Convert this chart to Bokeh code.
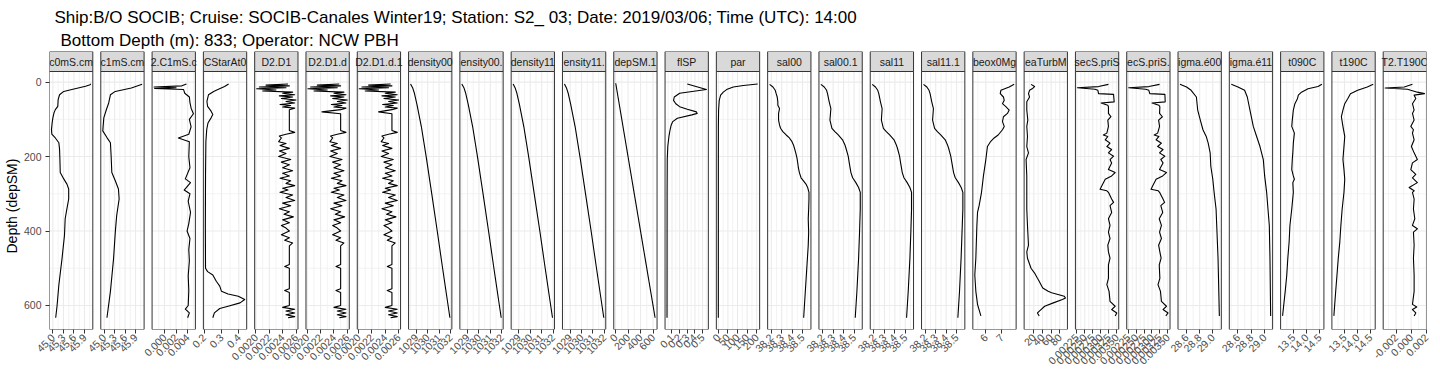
import math
from bokeh.plotting import figure
from bokeh.models import Range1d, FixedTicker, Title, CustomJSTickFormatter
from bokeh.core.properties import value
from bokeh.embed import file_html
from bokeh.resources import INLINE

FONT = "Liberation Sans"

title_line1 = "Ship:B/O SOCIB;  Cruise: SOCIB-Canales Winter19;  Station: S2_ 03;  Date: 2019/03/06;  Time (UTC): 14:00"
title_line2 = "Bottom Depth (m): 833;  Operator: NCW PBH"
y_axis_label = "Depth (depSM)"
depth_ticks = [0, 200, 400, 600]

# ---------------- profiles: depth (m) and value ----------------
c0_depth = [5, 7, 11, 20, 25, 34, 47, 65, 74, 83, 96, 109, 127, 140, 150, 163, 180, 207, 243, 260, 274, 287, 314, 340, 367, 412, 474, 545, 600, 633]
c0_val = [46.08, 46.06, 45.93, 45.54, 45.31, 45.19, 45.15, 45.14, 45.07, 45.03, 45.00, 44.98, 44.96, 44.97, 45.07, 45.17, 45.19, 45.20, 45.21, 45.31, 45.40, 45.45, 45.45, 45.40, 45.35, 45.33, 45.26, 45.17, 45.12, 45.08]

c1_depth = [6, 16, 25, 34, 56, 75, 96, 131, 149, 163, 198, 243, 265, 287, 314, 358, 403, 474, 562, 633]
c1_val = [46.09, 45.78, 45.32, 45.18, 45.13, 45.06, 44.99, 44.96, 45.08, 45.18, 45.20, 45.22, 45.32, 45.41, 45.43, 45.36, 45.32, 45.27, 45.18, 45.08]

c21_depth = [5, 10, 13, 15, 17, 20, 30, 40, 55, 70, 85, 100, 120, 140, 150, 160, 200, 230, 260, 270, 290, 300, 320, 350, 380, 400, 420, 450, 480, 520, 560, 600, 610, 620, 633]
c21_val = [0.0038, 0.0030, -0.0018, 0.0020, -0.0017, 0.0033, 0.0035, 0.0043, 0.0044, 0.0046, 0.0050, 0.0043, 0.0046, 0.0042, 0.0024, 0.0043, 0.0042, 0.0044, 0.0036, 0.0045, 0.0034, 0.0044, 0.0041, 0.0045, 0.0042, 0.0039, 0.0044, 0.0042, 0.0043, 0.0041, 0.0042, 0.0041, 0.0036, 0.0043, 0.0040]

cstar_depth = [5, 12, 20, 25, 34, 52, 65, 78, 87, 96, 110, 127, 160, 250, 385, 500, 509, 518, 535, 548, 562, 569, 575, 584, 593, 602, 608, 620, 633]
cstar_val = [0.341, 0.318, 0.279, 0.255, 0.225, 0.216, 0.220, 0.240, 0.250, 0.240, 0.222, 0.215, 0.210, 0.208, 0.207, 0.208, 0.220, 0.250, 0.270, 0.290, 0.300, 0.338, 0.397, 0.434, 0.407, 0.338, 0.290, 0.259, 0.250]

d2d1_depth = [5, 8, 10, 13, 15, 18, 21, 24, 27, 30, 34, 37, 40, 44, 48, 52, 56, 60, 63, 67, 70, 74, 130, 135, 140, 145, 150, 160, 165, 170, 178, 185, 192, 200, 208, 215, 222, 230, 238, 245, 252, 258, 265, 272, 278, 285, 290, 296, 303, 310, 318, 325, 332, 340, 348, 355, 362, 370, 378, 385, 392, 400, 410, 418, 425, 432, 440, 490, 495, 500, 555, 560, 565, 600, 605, 610, 615, 620, 625, 630, 633]
d2d1_val = [0.00248, 0.00215, 0.00250, 0.00205, 0.00245, 0.00201, 0.00230, 0.00210, 0.00255, 0.00240, 0.00258, 0.00235, 0.00255, 0.00238, 0.00260, 0.00245, 0.00258, 0.00236, 0.00252, 0.00240, 0.00258, 0.00250, 0.00250, 0.00258, 0.00245, 0.00235, 0.00238, 0.00234, 0.00245, 0.00236, 0.00250, 0.00235, 0.00245, 0.00234, 0.00252, 0.00238, 0.00250, 0.00240, 0.00255, 0.00240, 0.00250, 0.00236, 0.00252, 0.00245, 0.00258, 0.00240, 0.00248, 0.00236, 0.00255, 0.00245, 0.00258, 0.00240, 0.00252, 0.00235, 0.00250, 0.00242, 0.00256, 0.00240, 0.00250, 0.00238, 0.00245, 0.00250, 0.00238, 0.00250, 0.00243, 0.00255, 0.00250, 0.00250, 0.00243, 0.00250, 0.00250, 0.00243, 0.00250, 0.00250, 0.00240, 0.00258, 0.00245, 0.00258, 0.00245, 0.00258, 0.00248]

d2d1d_depth = [5, 8, 10, 13, 15, 18, 21, 24, 27, 30, 34, 37, 40, 44, 48, 52, 56, 60, 63, 67, 70, 74, 80, 85, 130, 135, 140, 145, 150, 160, 165, 170, 178, 185, 192, 200, 208, 215, 222, 230, 238, 245, 252, 258, 265, 272, 278, 285, 290, 296, 303, 310, 318, 325, 332, 340, 348, 355, 362, 370, 378, 385, 392, 400, 410, 418, 425, 432, 440, 490, 495, 500, 555, 560, 565, 600, 605, 610, 615, 620, 625, 630, 633]
d2d1d_val = [0.00248, 0.00215, 0.00250, 0.00205, 0.00245, 0.00201, 0.00230, 0.00210, 0.00255, 0.00240, 0.00258, 0.00235, 0.00255, 0.00238, 0.00260, 0.00245, 0.00258, 0.00236, 0.00252, 0.00240, 0.00258, 0.00250, 0.00222, 0.00250, 0.00250, 0.00258, 0.00245, 0.00235, 0.00238, 0.00234, 0.00245, 0.00236, 0.00250, 0.00235, 0.00245, 0.00234, 0.00252, 0.00238, 0.00250, 0.00240, 0.00255, 0.00240, 0.00250, 0.00236, 0.00252, 0.00245, 0.00258, 0.00240, 0.00248, 0.00236, 0.00255, 0.00245, 0.00258, 0.00240, 0.00252, 0.00235, 0.00250, 0.00242, 0.00256, 0.00240, 0.00250, 0.00238, 0.00245, 0.00250, 0.00238, 0.00250, 0.00243, 0.00255, 0.00250, 0.00250, 0.00243, 0.00250, 0.00250, 0.00243, 0.00250, 0.00250, 0.00240, 0.00258, 0.00245, 0.00258, 0.00245, 0.00258, 0.00248]

d2d1d1_depth = [5, 8, 10, 13, 15, 18, 21, 24, 27, 30, 34, 37, 40, 44, 48, 52, 56, 60, 63, 67, 70, 74, 80, 85, 130, 135, 140, 145, 150, 160, 165, 170, 178, 185, 192, 200, 208, 215, 222, 230, 238, 245, 252, 258, 265, 272, 278, 285, 290, 296, 303, 310, 318, 325, 332, 340, 348, 355, 362, 370, 378, 385, 392, 400, 410, 418, 425, 432, 440, 490, 495, 500, 555, 560, 565, 600, 605, 610, 615, 620, 625, 630, 633]
d2d1d1_val = [0.00248, 0.00215, 0.00250, 0.00205, 0.00245, 0.00201, 0.00230, 0.00210, 0.00255, 0.00240, 0.00258, 0.00235, 0.00255, 0.00238, 0.00260, 0.00245, 0.00258, 0.00236, 0.00252, 0.00240, 0.00258, 0.00250, 0.00230, 0.00250, 0.00250, 0.00258, 0.00245, 0.00235, 0.00238, 0.00234, 0.00245, 0.00236, 0.00250, 0.00235, 0.00245, 0.00234, 0.00252, 0.00238, 0.00250, 0.00240, 0.00255, 0.00240, 0.00250, 0.00236, 0.00252, 0.00245, 0.00258, 0.00240, 0.00248, 0.00236, 0.00255, 0.00245, 0.00258, 0.00240, 0.00252, 0.00235, 0.00250, 0.00242, 0.00256, 0.00240, 0.00250, 0.00238, 0.00245, 0.00250, 0.00238, 0.00250, 0.00243, 0.00255, 0.00250, 0.00250, 0.00243, 0.00250, 0.00250, 0.00243, 0.00250, 0.00250, 0.00240, 0.00258, 0.00245, 0.00258, 0.00245, 0.00258, 0.00248]

dens_depth = [5, 15, 30, 60, 120, 200, 300, 400, 500, 633]
density00_val = [1028.50, 1028.68, 1028.84, 1029.06, 1029.45, 1029.87, 1030.36, 1030.84, 1031.31, 1031.95]
density00_1_val = [1028.50, 1028.68, 1028.84, 1029.06, 1029.45, 1029.87, 1030.36, 1030.84, 1031.31, 1031.95]
density11_val = [1028.50, 1028.67, 1028.83, 1029.05, 1029.44, 1029.86, 1030.35, 1030.84, 1031.31, 1031.95]
density11_1_val = [1028.50, 1028.67, 1028.83, 1029.05, 1029.44, 1029.86, 1030.35, 1030.84, 1031.31, 1031.95]

depsm_depth = [3, 633]
depsm_val = [3, 633]

flsp_depth = [5, 20, 30, 40, 49, 58, 66, 73, 80, 84, 88, 97, 106, 115, 128, 146, 173, 208, 296, 633]
flsp_val = [0.30, 0.55, 0.20, 0.13, 0.12, 0.15, 0.20, 0.30, 0.42, 0.43, 0.36, 0.17, 0.11, 0.09, 0.075, 0.06, 0.045, 0.038, 0.036, 0.035]

par_depth = [5, 9, 13, 20, 27, 35, 49, 75, 119, 200, 633]
par_val = [205, 130, 78, 43, 26, 12, 5, 1.5, 0.4, 0.2, 0.1]

sal00_depth = [6, 13, 22, 31, 40, 53, 62, 71, 84, 102, 115, 124, 133, 142, 150, 159, 168, 177, 190, 204, 217, 230, 243, 257, 266, 274, 283, 296, 314, 341, 367, 403, 438, 491, 562, 633]
sal00_val = [38.184, 38.216, 38.238, 38.247, 38.257, 38.263, 38.263, 38.279, 38.270, 38.270, 38.279, 38.289, 38.311, 38.343, 38.374, 38.397, 38.412, 38.422, 38.435, 38.447, 38.454, 38.460, 38.470, 38.486, 38.511, 38.533, 38.549, 38.562, 38.562, 38.559, 38.555, 38.559, 38.555, 38.543, 38.527, 38.511]

sal_depth = [6, 13, 22, 31, 53, 71, 102, 124, 133, 142, 155, 168, 177, 199, 217, 243, 257, 270, 283, 296, 341, 403, 473, 562, 633]
sal00_1_val = [38.184, 38.216, 38.238, 38.247, 38.263, 38.279, 38.270, 38.289, 38.317, 38.349, 38.390, 38.412, 38.422, 38.444, 38.454, 38.470, 38.486, 38.517, 38.543, 38.559, 38.559, 38.552, 38.543, 38.527, 38.511]
sal11_val = [38.183, 38.214, 38.236, 38.246, 38.262, 38.278, 38.271, 38.290, 38.318, 38.350, 38.392, 38.413, 38.424, 38.445, 38.455, 38.471, 38.487, 38.518, 38.544, 38.560, 38.560, 38.553, 38.544, 38.528, 38.512]
sal11_1_val = [38.183, 38.215, 38.236, 38.246, 38.262, 38.278, 38.270, 38.289, 38.316, 38.348, 38.391, 38.412, 38.423, 38.444, 38.455, 38.471, 38.487, 38.518, 38.544, 38.560, 38.560, 38.552, 38.543, 38.528, 38.512]

oxy_depth = [6, 13, 22, 31, 40, 49, 58, 66, 75, 84, 93, 106, 119, 128, 142, 150, 159, 173, 208, 252, 296, 332, 350, 385, 473, 518, 562, 597, 628]
oxy_val = [7.77, 7.46, 6.94, 6.90, 7.10, 7.15, 7.04, 7.25, 7.46, 7.35, 7.10, 7.04, 7.15, 7.04, 6.77, 6.52, 6.31, 6.10, 6.00, 5.85, 5.73, 5.58, 5.48, 5.44, 5.375, 5.31, 5.375, 5.48, 5.69]

turb_depth = [6, 12, 18, 22, 31, 40, 53, 75, 102, 119, 146, 173, 190, 208, 252, 296, 341, 385, 438, 456, 473, 500, 513, 527, 535, 544, 553, 562, 566, 571, 575, 580, 584, 593, 602, 611, 620, 628]
turb_val = [13.5, 21.7, 16.0, 10.1, 7.6, 10.1, 3.7, 3.7, 6.1, 3.7, 5.3, 3.7, 7.6, 2.1, 3.7, 3.7, 3.7, 5.3, 7.6, 3.7, 5.3, 13.5, 21.7, 28.3, 32.4, 36.5, 40.6, 53.0, 61.0, 78.0, 90.0, 93.0, 86.0, 65.0, 45.0, 36.5, 28.3, 32.4]

secs_depth = [6, 12, 15, 19, 22, 31, 33, 53, 56, 62, 66, 84, 93, 102, 119, 137, 142, 146, 155, 164, 173, 181, 190, 199, 208, 217, 235, 243, 252, 261, 279, 288, 292, 296, 314, 323, 332, 350, 367, 385, 403, 420, 438, 456, 473, 491, 527, 544, 562, 589, 602, 611, 620, 628]
secs_val = [0.00324, 0.00293, 0.00227, 0.00282, 0.00291, 0.00293, 0.00340, 0.00342, 0.00301, 0.00322, 0.00324, 0.00324, 0.00332, 0.00322, 0.00324, 0.00319, 0.00308, 0.00322, 0.00314, 0.00329, 0.00319, 0.00334, 0.00324, 0.00340, 0.00329, 0.00334, 0.00324, 0.00345, 0.00334, 0.00314, 0.00303, 0.00298, 0.00319, 0.00324, 0.00334, 0.00340, 0.00329, 0.00334, 0.00324, 0.00329, 0.00324, 0.00329, 0.00322, 0.00324, 0.00329, 0.00324, 0.00324, 0.00319, 0.00326, 0.00329, 0.00345, 0.00334, 0.00350, 0.00345]
secs1_val = [0.00324, 0.00290, 0.00226, 0.00280, 0.00290, 0.00293, 0.00341, 0.00342, 0.00300, 0.00322, 0.00325, 0.00324, 0.00333, 0.00321, 0.00324, 0.00318, 0.00307, 0.00322, 0.00313, 0.00330, 0.00318, 0.00335, 0.00324, 0.00341, 0.00328, 0.00335, 0.00324, 0.00346, 0.00334, 0.00313, 0.00302, 0.00297, 0.00320, 0.00324, 0.00335, 0.00340, 0.00328, 0.00334, 0.00323, 0.00330, 0.00324, 0.00330, 0.00321, 0.00325, 0.00329, 0.00323, 0.00325, 0.00319, 0.00327, 0.00330, 0.00346, 0.00335, 0.00351, 0.00344]

sig00_depth = [6, 13, 22, 40, 75, 102, 128, 146, 164, 190, 226, 261, 296, 341, 385, 473, 628]
sig00_val = [28.50, 28.60, 28.67, 28.75, 28.77, 28.81, 28.85, 28.90, 28.93, 28.96, 28.97, 29.00, 29.02, 29.05, 29.06, 29.08, 29.10]
sig11_depth = [6, 13, 22, 40, 75, 119, 146, 173, 208, 252, 296, 341, 385, 473, 628]
sig11_val = [28.50, 28.60, 28.70, 28.74, 28.78, 28.83, 28.88, 28.93, 28.98, 29.00, 29.03, 29.05, 29.07, 29.08, 29.09]

t0_depth = [6, 12, 18, 27, 35, 44, 58, 75, 102, 119, 137, 164, 190, 208, 235, 252, 261, 270, 296, 341, 385, 429, 473, 518, 562, 628]
t0_val = [14.59, 14.44, 14.06, 13.81, 13.69, 13.66, 13.56, 13.50, 13.46, 13.44, 13.54, 13.50, 13.48, 13.46, 13.44, 13.50, 13.54, 13.48, 13.50, 13.44, 13.37, 13.34, 13.29, 13.25, 13.19, 13.09]
t1_depth = [6, 13, 22, 31, 44, 58, 75, 93, 119, 146, 173, 208, 235, 261, 296, 341, 385, 429, 473, 518, 562, 628]
t1_val = [14.61, 14.38, 14.01, 13.73, 13.63, 13.51, 13.44, 13.38, 13.44, 13.51, 13.48, 13.44, 13.48, 13.51, 13.48, 13.41, 13.36, 13.32, 13.26, 13.21, 13.16, 13.09]

t2_depth = [6, 13, 16, 19, 22, 27, 31, 35, 44, 58, 75, 84, 102, 119, 128, 137, 155, 173, 190, 208, 217, 235, 248, 257, 270, 283, 292, 296, 314, 341, 367, 385, 394, 403, 438, 473, 518, 562, 597, 604, 611, 620, 628]
t2_val = [0.00018, -0.00091, -0.00344, -0.00048, -0.00004, 0.00083, 0.00178, 0.00040, 0.00062, 0.00018, 0.00040, 0.00018, 0.00040, -0.00004, 0.00031, 0.00018, 0.00040, 0.00004, 0.00040, 0.00083, 0.00018, -0.00004, 0.00062, 0.00018, 0.00083, -0.00026, 0.00040, 0.00018, 0.00040, 0.00031, 0.00049, 0.00018, 0.00083, 0.00031, 0.00040, 0.00031, 0.00040, 0.00040, 0.00018, 0.00075, 0.00018, 0.00062, 0.00040]

# ---------------- x ticks per panel ----------------
cond_ticks, cond_labels = [45.0, 45.3, 45.6, 45.9], ["45.0", "45.3", "45.6", "45.9"]
diff_ticks, diff_labels = [0.000, 0.002, 0.004], ["0.000", "0.002", "0.004"]
cstar_ticks, cstar_labels = [0.2, 0.3, 0.4], ["0.2", "0.3", "0.4"]
d2_ticks, d2_labels = [0.0020, 0.0022, 0.0024, 0.0026], ["0.0020", "0.0022", "0.0024", "0.0026"]
dens_ticks, dens_labels = [1029, 1030, 1031, 1032], ["1029", "1030", "1031", "1032"]
depsm_ticks, depsm_labels = [0, 200, 400, 600], ["0", "200", "400", "600"]
flsp_ticks, flsp_labels = [0.1, 0.2, 0.3, 0.4, 0.5], ["0.1", "0.2", "0.3", "0.4", "0.5"]
par_ticks, par_labels = [0, 50, 100, 150, 200], ["0", "50", "100", "150", "200"]
sal_ticks, sal_labels = [38.2, 38.3, 38.4, 38.5], ["38.2", "38.3", "38.4", "38.5"]
oxy_ticks, oxy_labels = [6, 7], ["6", "7"]
turb_ticks, turb_labels = [20, 40, 60, 80], ["20", "40", "60", "80"]
secs_ticks = [0.00225, 0.00250, 0.00275, 0.00300, 0.00325, 0.00350]
secs_labels = ["0.00225", "0.00250", "0.00275", "0.00300", "0.00325", "0.00350"]
sig_ticks, sig_labels = [28.6, 28.8, 29.0], ["28.6", "28.8", "29.0"]
temp_ticks, temp_labels = [13.5, 14.0, 14.5], ["13.5", "14.0", "14.5"]
t2_ticks, t2_labels = [-0.002, 0.000, 0.002], ["-0.002", "0.000", "0.002"]

panels = [
    ("c0mS.cm", c0_depth, c0_val, cond_ticks, cond_labels),
    ("c1mS.cm", c1_depth, c1_val, cond_ticks, cond_labels),
    ("2.C1mS.c", c21_depth, c21_val, diff_ticks, diff_labels),
    ("CStarAt0", cstar_depth, cstar_val, cstar_ticks, cstar_labels),
    ("D2.D1", d2d1_depth, d2d1_val, d2_ticks, d2_labels),
    ("D2.D1.d", d2d1d_depth, d2d1d_val, d2_ticks, d2_labels),
    ("D2.D1.d.1", d2d1d1_depth, d2d1d1_val, d2_ticks, d2_labels),
    ("density00", dens_depth, density00_val, dens_ticks, dens_labels),
    ("ensity00.", dens_depth, density00_1_val, dens_ticks, dens_labels),
    ("density11", dens_depth, density11_val, dens_ticks, dens_labels),
    ("ensity11.", dens_depth, density11_1_val, dens_ticks, dens_labels),
    ("depSM.1", depsm_depth, depsm_val, depsm_ticks, depsm_labels),
    ("flSP", flsp_depth, flsp_val, flsp_ticks, flsp_labels),
    ("par", par_depth, par_val, par_ticks, par_labels),
    ("sal00", sal00_depth, sal00_val, sal_ticks, sal_labels),
    ("sal00.1", sal_depth, sal00_1_val, sal_ticks, sal_labels),
    ("sal11", sal_depth, sal11_val, sal_ticks, sal_labels),
    ("sal11.1", sal_depth, sal11_1_val, sal_ticks, sal_labels),
    ("beox0Mg", oxy_depth, oxy_val, oxy_ticks, oxy_labels),
    ("eaTurbM", turb_depth, turb_val, turb_ticks, turb_labels),
    ("secS.priS", secs_depth, secs_val, secs_ticks, secs_labels),
    ("ecS.priS.", secs_depth, secs1_val, secs_ticks, secs_labels),
    ("igma.é00", sig00_depth, sig00_val, sig_ticks, sig_labels),
    ("igma.é11", sig11_depth, sig11_val, sig_ticks, sig_labels),
    ("t090C", t0_depth, t0_val, temp_ticks, temp_labels),
    ("t190C", t1_depth, t1_val, temp_ticks, temp_labels),
    ("T2.T190C", t2_depth, t2_val, t2_ticks, t2_labels),
]

# ---------------- layout ----------------
FRAME_W = 1377
FRAME_H = 278
PANEL_W = 43.3
STRIP_H = 20
GRID = "#EBEBEB"
EDGE = "#333333"

all_depth = [d for pnl in panels for d in pnl[1]]
dmin, dmax = min(all_depth), max(all_depth)
dpad = 0.05 * (dmax - dmin)
y_top = dmin - dpad
y_bot = dmax + dpad
m_per_px = (y_bot - y_top) / (FRAME_H - STRIP_H)
y_strip = y_top - STRIP_H * m_per_px

n = len(panels)
pitch = (FRAME_W - PANEL_W) / (n - 1)

p = figure(frame_width=FRAME_W, frame_height=FRAME_H,
           x_range=Range1d(0, FRAME_W), y_range=Range1d(y_bot, y_strip),
           output_backend="svg", toolbar_location=None, title=None,
           min_border_left=43, min_border_right=4, min_border_top=0, min_border_bottom=40,
           background_fill_color="white", border_fill_color="white",
           stylesheets=["text { white-space: pre; }"])
p.outline_line_color = None
p.grid.visible = False

def minors(majors, lo, hi):
    if len(majors) < 2:
        return []
    step = majors[1] - majors[0]
    cand = [majors[0] - step / 2] + [(a + b) / 2 for a, b in zip(majors[:-1], majors[1:])] + [majors[-1] + step / 2]
    return [c for c in cand if lo <= c <= hi]

dep_major = [d for d in depth_ticks if y_top <= d <= y_bot]
dep_minor = minors(depth_ticks, y_top, y_bot)

ranges = {}
tick_pos, tick_txt = [], []
specs = []
for k, (lab, dep, val, ticks, tlabels) in enumerate(panels):
    vmin, vmax = min(val), max(val)
    pad = 0.05 * (vmax - vmin)
    lo, hi = vmin - pad, vmax + pad
    upp = (hi - lo) / PANEL_W
    left_px = k * pitch
    start = lo - left_px * upp
    name = "x%d" % k
    ranges[name] = Range1d(start, start + FRAME_W * upp)
    eps = 1e-9 * (hi - lo)
    majors = []
    for t, s in zip(ticks, tlabels):
        if lo - eps <= t <= hi + eps:
            majors.append(t)
            tick_pos.append(left_px + (t - lo) / upp)
            tick_txt.append(s)
    specs.append((name, lab, dep, val, lo, hi, majors, minors(ticks, lo, hi)))
p.extra_x_ranges = ranges

for name, lab, dep, val, lo, hi, majors, mins in specs:
    if mins:
        p.segment(x0=mins, y0=[y_top] * len(mins), x1=mins, y1=[y_bot] * len(mins),
                  x_range_name=name, line_color=GRID, line_width=0.6)
    p.segment(x0=[lo] * len(dep_minor), y0=dep_minor, x1=[hi] * len(dep_minor), y1=dep_minor,
              x_range_name=name, line_color=GRID, line_width=0.6)
    p.segment(x0=majors, y0=[y_top] * len(majors), x1=majors, y1=[y_bot] * len(majors),
              x_range_name=name, line_color=GRID, line_width=1.1)
    p.segment(x0=[lo] * len(dep_major), y0=dep_major, x1=[hi] * len(dep_major), y1=dep_major,
              x_range_name=name, line_color=GRID, line_width=1.1)
    p.line(x=val, y=dep, x_range_name=name, line_color="black", line_width=1.1, line_join="round")
    p.quad(left=[lo], right=[hi], top=[y_top], bottom=[y_bot], x_range_name=name,
           fill_color=None, line_color=EDGE, line_width=1)
    p.quad(left=[lo], right=[hi], top=[y_strip], bottom=[y_top], x_range_name=name,
           fill_color="#D9D9D9", line_color=EDGE, line_width=1)
    p.text(x=[(lo + hi) / 2], y=[(y_top + y_strip) / 2], text=[lab], x_range_name=name,
           text_font=value(FONT), text_font_size="10.5px", text_color="#1A1A1A",
           text_align="center", text_baseline="middle")

# axes
xa = p.xaxis[0]
xa.ticker = FixedTicker(ticks=tick_pos)
xa.formatter = CustomJSTickFormatter(args=dict(pos=tick_pos, labs=tick_txt), code="""
let best = 0; let bd = Infinity;
for (let i = 0; i < pos.length; i++) { const d = Math.abs(pos[i] - tick); if (d < bd) { bd = d; best = i; } }
return labs[best];
""")
xa.major_label_orientation = math.pi / 4
ya = p.yaxis[0]
ya.ticker = FixedTicker(ticks=depth_ticks)
for ax in (xa, ya):
    ax.axis_line_color = None
    ax.major_tick_line_color = EDGE
    ax.major_tick_out = 4
    ax.major_tick_in = 0
    ax.minor_tick_line_color = None
    ax.major_label_text_font = FONT
    ax.major_label_text_font_size = "10.5px"
    ax.major_label_text_color = "#4D4D4D"
    ax.major_label_standoff = 2
ya.major_label_standoff = 4

# y-axis title, placed along the panel height (below the strips)
p.add_layout(Title(text=y_axis_label, text_font=FONT, text_font_size="14px", text_font_style="normal",
                   text_color="black", align="left", offset=76, standoff=2), "left")

p.add_layout(Title(text=title_line2, text_font=FONT, text_font_size="17px", text_font_style="normal",
                   text_color="black", align="left", offset=11, standoff=4), "above")
p.add_layout(Title(text=title_line1, text_font=FONT, text_font_size="17px", text_font_style="normal",
                   text_color="black", align="left", offset=5, standoff=0), "above")
p.add_layout(Title(text=" ", text_font=FONT, text_font_size="3px", standoff=0), "above")

open("out.html", "w", encoding="utf-8").write(file_html(p, INLINE))
